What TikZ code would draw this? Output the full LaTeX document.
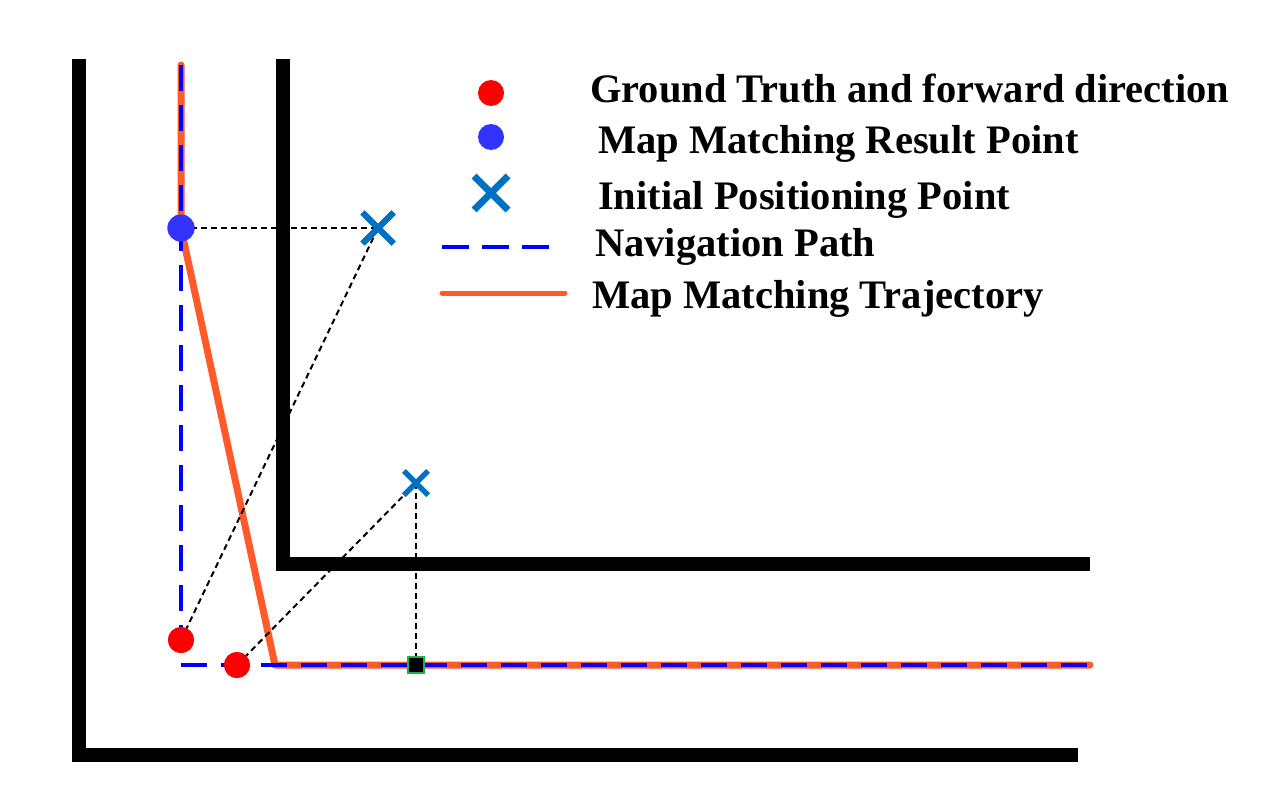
\documentclass[tikz,border=0pt]{standalone}
\usepackage{fontspec}
\setmainfont{Liberation Serif}
\usetikzlibrary{shapes.misc}
\definecolor{gtred}{HTML}{FF0000}
\definecolor{mmblue}{HTML}{3333FF}
\definecolor{ipblue}{HTML}{0070C0}
\definecolor{navblue}{HTML}{0000FF}
\definecolor{trajorange}{HTML}{FF5A2A}
\definecolor{sqgreen}{HTML}{22B04C}
\tikzset{
  wall/.style={line width=14pt, line join=miter, black},
  navpath/.style={navblue, line width=4pt, dash pattern=on 26pt off 14pt},
  traj/.style={trajorange, line width=7pt, line join=round},
  guide/.style={black, line width=2pt, dash pattern=on 6pt off 4pt},
  gtdot/.style={circle, fill=gtred, inner sep=0pt, minimum size=26pt},
  mmdot/.style={circle, fill=mmblue, inner sep=0pt, minimum size=27pt},
  ipcross/.style={cross out, draw=ipblue, line width=6pt, inner sep=0pt, minimum size=25pt},
  ipcrosssmall/.style={cross out, draw=ipblue, line width=5pt, inner sep=0pt, minimum size=19pt},
  legtext/.style={anchor=base west, inner sep=0pt, font=\fontsize{40.5}{42}\selectfont\bfseries},
}
\begin{document}
\begin{tikzpicture}[x=1pt,y=-1pt]
\useasboundingbox (0,0) rectangle (1268,795);
% walls
\draw[wall] (79,59) -- (79,755) -- (1078,755);
\draw[wall] (283,59) -- (283,564) -- (1090,564);
% points
\coordinate (navtop) at (181,65);
\coordinate (navcorner) at (181,665);
\coordinate (navend) at (1090,665);
\coordinate (trajturn) at (275,665);
\node[mmdot] (mm) at (181,228) {};
\node[gtdot] (gt1) at (181,640) {};
\node[gtdot] (gt2) at (237,665) {};
\node[ipcross] (ip1) at (378,228) {};
\node[ipcrosssmall] (ip2) at (416,483) {};
\coordinate (proj) at (416,665);
% trajectory and path
\draw[traj, line cap=round] (navtop) -- (mm.center) -- (trajturn) -- (navend);
\draw[navpath] (navtop) -- (navcorner) -- (navend);
% guides
\draw[guide] (mm.center) -- (ip1.center);
\draw[guide] (gt1.center) -- (ip1.center);
\draw[guide] (gt2.center) -- (ip2.center);
\draw[guide] (ip2.center) -- (proj);
% redraw marks on top
\node[mmdot] at (mm) {};
\node[gtdot] at (gt1) {};
\node[gtdot] at (gt2) {};
\node[ipcross] at (ip1) {};
\node[ipcrosssmall] at (ip2) {};
\node[draw=sqgreen, fill=black, line width=1.5pt, minimum size=16pt, inner sep=0pt] (sq) at (proj) {};
% legend
\node[gtdot] (lgt) at (491,93) {};
\node[mmdot, minimum size=26pt] (lmm) at (491,137) {};
\node[ipcross, line width=7pt, minimum size=27pt] (lip) at (491,193) {};
\coordinate (lnavA) at (442,247);
\coordinate (lnavB) at (549,247);
\coordinate (ltrA) at (442,293);
\coordinate (ltrB) at (565,293);
\draw[navblue, line width=4pt, dash pattern=on 27pt off 13pt] (lnavA) -- (lnavB);
\draw[trajorange, line width=5pt, line cap=round] (ltrA) -- (ltrB);
\node[legtext] (t1) at (590,102) {Ground Truth and forward direction};
\node[legtext] (t2) at (598,153) {Map Matching Result Point};
\node[legtext] (t3) at (598,209) {Initial Positioning Point};
\node[legtext] (t4) at (595,256) {Navigation Path};
\node[legtext] (t5) at (592,308) {Map Matching Trajectory};
\end{tikzpicture}
\end{document}
